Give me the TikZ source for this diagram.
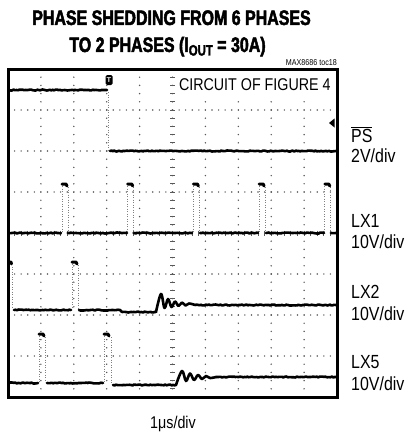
\documentclass[tikz,border=0pt]{standalone}
\usepackage{fontspec}
\usepackage{tikz}
\usetikzlibrary{arrows.meta, calc, positioning, decorations.pathmorphing}
\newfontfamily\condfont[FakeStretch=0.84]{Liberation Sans}
\newfontfamily\titlefont[FakeStretch=0.76, FakeBold=2.2]{Liberation Sans}
\definecolor{gridgray}{gray}{0.35}
\definecolor{edgegray}{gray}{0.5}

\begin{document}
\begin{tikzpicture}[x=1pt, y=-1pt,
    trace/.style={line width=2.6pt, black, line join=round, line cap=round},
    noisy/.style={trace, decorate, decoration={random steps, segment length=1.5pt, amplitude=0.5pt}},
    edgeline/.style={edgegray, line width=0.9pt, dash pattern=on 1.2pt off 1.3pt},
    griddot/.style={fill=gridgray},
    chlabel/.style={font=\condfont\fontsize{19}{20}\selectfont, anchor=base west, inner sep=0pt},
    headline/.style={font=\titlefont\bfseries\fontsize{21}{22}\selectfont, anchor=base, inner sep=0pt}]
    \useasboundingbox (0,0) rectangle (405,436);
    \pgfmathsetseed{8686}

    % Title
    \node[headline] (head1) at (171.5,25) {PHASE SHEDDING FROM 6 PHASES};
    \node[headline] (head2) at (167.5,52) {TO 2 PHASES (I{\fontsize{15}{15}\selectfont\raisebox{-3.5pt}{OUT}} = 30A)};
    \node[font=\condfont\fontsize{8.5}{9}\selectfont, anchor=base east, inner sep=0pt] (toc) at (337,65) {MAX8686 toc18};

    % Grid dots
    \foreach \i in {1,...,9}
        \foreach \k in {0,...,40}
            \fill[griddot] ({8+32.9*\i},{69+8.2*\k}) circle (0.8);
    \foreach \j in {1,...,7}
        \foreach \k in {0,...,50}
            \fill[griddot] ({8+6.58*\k},{69+41*\j}) circle (0.8);

    % Center axis ticks
    \foreach \k in {1,...,39}
        \draw[gridgray, line width=0.9pt] (170,{69+8.2*\k}) -- (175,{69+8.2*\k});
    \foreach \k in {1,...,49}
        \draw[gridgray, line width=0.9pt] ({8+6.58*\k},230.5) -- ({8+6.58*\k},235.5);

    % Label box
    \node[fill=white, minimum width=160pt, minimum height=27pt, anchor=north east, inner sep=0pt,
          font=\condfont\fontsize{17}{18}\selectfont] (circuit) at (335,71) {CIRCUIT OF FIGURE 4};

    % Frame
    \draw[line width=3pt] (8,69) rectangle (337,397);

    % PS trace
    \draw[noisy] (9,90) -- (107,90);
    \draw[edgeline] (108,92) -- (108,150);
    \draw[noisy] (110,151) -- (336,151);
    \node[fill=black, rounded corners=1.5pt, text=white, inner sep=0pt, minimum width=7pt, minimum height=10pt,
          font=\sffamily\bfseries\fontsize{7}{7}\selectfont] (trig) at (109,80) {T};
    \fill (329,123) -- (334.5,118.5) -- (334.5,127.5) -- cycle;

    % LX1 trace
    \foreach \a/\b in {9/61, 68/127, 134/192, 200/258, 266/324, 331/336}
        \draw[noisy] (\a,233) -- (\b,233);
    \foreach \p in {62,127.7,193.4,259.1,324.8} {
        \draw[edgeline] (\p,186) -- (\p,232);
        \draw[edgeline] ({\p+6},187) -- ({\p+6},232);
        \draw[trace, line width=3pt] (\p,184) -- ({\p+4},184) -- ({\p+5},186);
    }

    % LX2 trace
    \draw[trace, line width=3pt] (9,262) -- (11,262) -- (11.5,264);
    \draw[edgeline] (12,264) -- (12,309);
    \draw[noisy] (14,310) -- (71,310);
    \draw[edgeline] (72,264) -- (72,309);
    \draw[trace, line width=3pt] (72,262) -- (76,262) -- (77,264);
    \draw[edgeline] (78,265) -- (78,309);
    \draw[noisy] (79,310) -- (120,310) -- (122,312) -- (156,312);
    \draw[trace] plot[smooth, tension=0.6] coordinates {(156,312) (161,294) (164.5,308) (168,299)
        (171.5,307) (175,301.5) (178.5,306) (182,302.5) (185.5,305.5) (189,303.5) (195,305)};
    \draw[noisy] (195,305) -- (336,305);

    % LX5 trace
    \draw[noisy] (9,383) -- (38,383);
    \draw[edgeline] (39,336) -- (39,382);
    \draw[trace, line width=3pt] (39,334) -- (43,334) -- (44,336);
    \draw[edgeline] (45,337) -- (45,382);
    \draw[noisy] (47,383) -- (103,383);
    \draw[edgeline] (104,336) -- (104,382);
    \draw[trace, line width=3pt] (104,334) -- (108,334) -- (109,336);
    \draw[edgeline] (111,337) -- (111,384);
    \draw[noisy] (113,385) -- (176,385);
    \draw[trace] plot[smooth, tension=0.6] coordinates {(176,385) (182,371) (186,381) (190,373.5)
        (194,380) (198,375) (202,379) (206,376) (210,378) (216,377)};
    \draw[noisy] (216,377) -- (336,377);

    % Channel labels
    \node[chlabel] (ps) at (351,142) {$\overline{\hbox{PS}}$};
    \node[chlabel] (psdiv) at (351,162) {2V/div};
    \node[chlabel] (lx1) at (351,227) {LX1};
    \node[chlabel] (lx1div) at (351,248) {10V/div};
    \node[chlabel] (lx2) at (351,298) {LX2};
    \node[chlabel] (lx2div) at (351,320) {10V/div};
    \node[chlabel] (lx5) at (351,368) {LX5};
    \node[chlabel] (lx5div) at (351,390) {10V/div};

    % Time base
    \node[font=\condfont\fontsize{17}{18}\selectfont, anchor=base, inner sep=0pt] (tdiv) at (173,428) {1μs/div};
\end{tikzpicture}
\end{document}
